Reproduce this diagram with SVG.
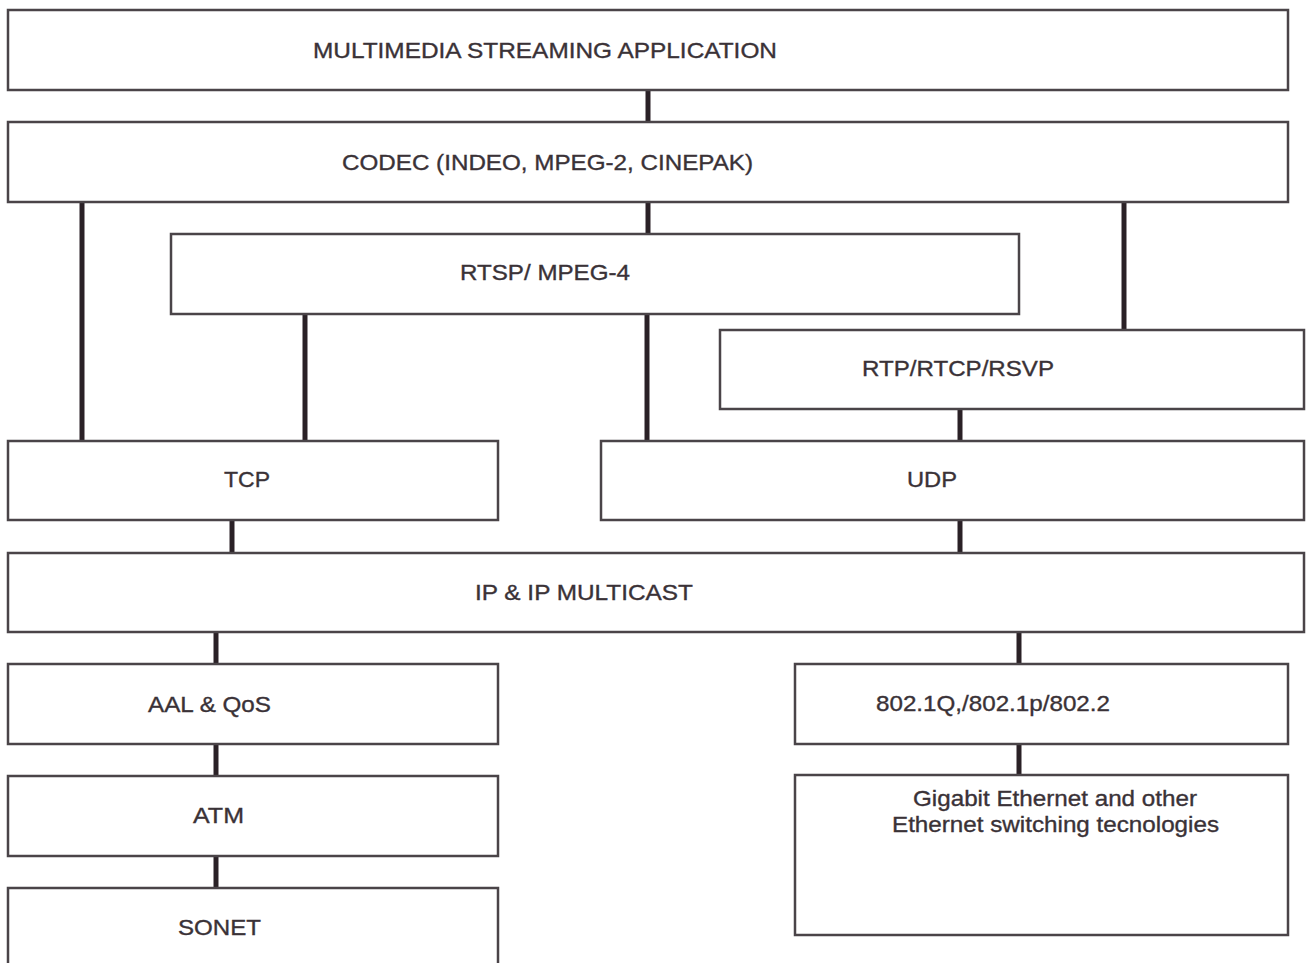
<svg xmlns="http://www.w3.org/2000/svg" width="1311" height="963" viewBox="0 0 1311 963">
  <style>
    .box { fill: #ffffff; stroke: #4a4448; stroke-width: 2.5; }
    .lbl { font-family: "Liberation Sans", Arial, sans-serif; font-size: 22px; fill: #3a3237; stroke: #3a3237; stroke-width: 0.35; }
    .link { stroke: #2a2126; stroke-width: 5; fill: none; }
  </style>
  <rect width="1311" height="963" fill="#ffffff"/>

  <!-- connectors between layers -->
  <g id="connectors">
    <line class="link" x1="648" y1="90" x2="648" y2="122"/>
    <line class="link" x1="648" y1="202" x2="648" y2="234"/>
    <line class="link" x1="82" y1="202" x2="82" y2="441"/>
    <line class="link" x1="1124" y1="202" x2="1124" y2="330"/>
    <line class="link" x1="305" y1="314" x2="305" y2="441"/>
    <line class="link" x1="647" y1="314" x2="647" y2="441"/>
    <line class="link" x1="960" y1="409" x2="960" y2="441"/>
    <line class="link" x1="232" y1="520" x2="232" y2="553"/>
    <line class="link" x1="960" y1="520" x2="960" y2="553"/>
    <line class="link" x1="216" y1="632" x2="216" y2="664"/>
    <line class="link" x1="1019" y1="632" x2="1019" y2="664"/>
    <line class="link" x1="216" y1="744" x2="216" y2="776"/>
    <line class="link" x1="216" y1="856" x2="216" y2="888"/>
    <line class="link" x1="1019" y1="744" x2="1019" y2="775"/>
  </g>

  <g id="app">
    <rect class="box" x="8" y="10" width="1280" height="80"/>
    <text class="lbl" x="313" y="58" textLength="464" lengthAdjust="spacingAndGlyphs">MULTIMEDIA STREAMING APPLICATION</text>
  </g>
  <g id="codec">
    <rect class="box" x="8" y="122" width="1280" height="80"/>
    <text class="lbl" x="342" y="170" textLength="411" lengthAdjust="spacingAndGlyphs">CODEC (INDEO, MPEG-2, CINEPAK)</text>
  </g>
  <g id="rtsp">
    <rect class="box" x="171" y="234" width="848" height="80"/>
    <text class="lbl" x="460" y="280" textLength="170" lengthAdjust="spacingAndGlyphs">RTSP/ MPEG-4</text>
  </g>
  <g id="rtp">
    <rect class="box" x="720" y="330" width="584" height="79"/>
    <text class="lbl" x="862" y="376" textLength="192" lengthAdjust="spacingAndGlyphs">RTP/RTCP/RSVP</text>
  </g>
  <g id="tcp">
    <rect class="box" x="8" y="441" width="490" height="79"/>
    <text class="lbl" x="224" y="487" textLength="46" lengthAdjust="spacingAndGlyphs">TCP</text>
  </g>
  <g id="udp">
    <rect class="box" x="601" y="441" width="703" height="79"/>
    <text class="lbl" x="907" y="487" textLength="50" lengthAdjust="spacingAndGlyphs">UDP</text>
  </g>
  <g id="ip">
    <rect class="box" x="8" y="553" width="1296" height="79"/>
    <text class="lbl" x="475" y="600" textLength="218" lengthAdjust="spacingAndGlyphs">IP &amp; IP MULTICAST</text>
  </g>
  <g id="aal">
    <rect class="box" x="8" y="664" width="490" height="80"/>
    <text class="lbl" x="148" y="712" textLength="123" lengthAdjust="spacingAndGlyphs">AAL &amp; QoS</text>
  </g>
  <g id="ieee8021">
    <rect class="box" x="795" y="664" width="493" height="80"/>
    <text class="lbl" x="876" y="711" textLength="234" lengthAdjust="spacingAndGlyphs">802.1Q,/802.1p/802.2</text>
  </g>
  <g id="atm">
    <rect class="box" x="8" y="776" width="490" height="80"/>
    <text class="lbl" x="193" y="823" textLength="51" lengthAdjust="spacingAndGlyphs">ATM</text>
  </g>
  <g id="gigabit">
    <rect class="box" x="795" y="775" width="493" height="160"/>
    <text class="lbl" x="913" y="806" textLength="284" lengthAdjust="spacingAndGlyphs">Gigabit Ethernet and other</text>
    <text class="lbl" x="892" y="832" textLength="327" lengthAdjust="spacingAndGlyphs">Ethernet switching tecnologies</text>
  </g>
  <g id="sonet">
    <rect class="box" x="8" y="888" width="490" height="90"/>
    <text class="lbl" x="178" y="935" textLength="83" lengthAdjust="spacingAndGlyphs">SONET</text>
  </g>
</svg>
